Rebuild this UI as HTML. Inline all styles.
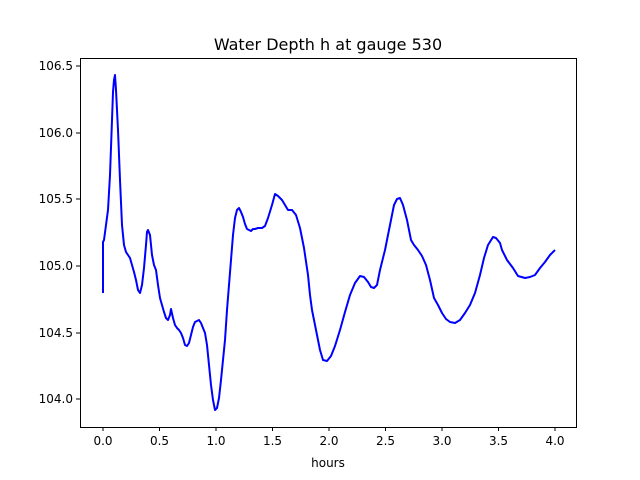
<!DOCTYPE html>
<html><head><meta charset="utf-8"><style>body{margin:0;background:#fff}svg{display:block}text{font-family:"DejaVu Sans","Liberation Sans",sans-serif;fill:#000}</style></head><body>
<svg width="640" height="480" xmlns="http://www.w3.org/2000/svg">
<rect width="640" height="480" fill="#fff"/>
<text x="328" y="50" font-size="16" text-anchor="middle">Water Depth h at gauge 530</text>
<polyline fill="none" stroke="#0000ff" stroke-width="2" stroke-linejoin="round" points="103,293 103,242 104,240 106,225 108,210 110,175 112,120 113,92 114,80 115,75 116,90 118,130 120,180 122,225 124,245 126,252 128,255 130,258 132,265 134,272 136,280 138,290 140,293 142,285 144,268 146,245 147,232 148,230 150,235 152,255 154,265 156,270 158,285 160,298 162,305 164,312 166,318 168,320 170,315 171,309 173,318 175,325 177,328 179,330 181,333 183,338 185,345 187,346 189,343 191,335 193,327 195,322 197,321 199,320 201,323 203,328 205,333 207,345 209,365 211,385 213,400 215,410 217,408 219,398 221,380 223,360 225,340 227,310 229,285 231,260 233,235 235,218 237,210 239,208 241,212 243,217 245,224 247,229 249,230 251,231 253,229 255,229 258,228 262,228 265,226 268,218 272,205 275,194 278,196 282,200 285,205 288,210 292,210 296,215 300,228 304,248 308,275 310,295 312,310 316,330 320,350 323,360 327,361 331,356 335,346 340,330 345,312 350,295 355,283 360,276 364,277 368,282 371,287 374,288 377,285 380,270 385,250 390,225 394,205 397,199 400,198 403,205 407,220 411,240 414,245 418,250 422,256 426,265 430,280 434,298 438,305 442,313 446,319 450,322 455,323 460,320 465,313 470,305 475,293 480,275 484,258 488,245 493,237 496,238 500,243 502,250 507,260 513,268 518,276 525,278 530,277 535,275 540,268 545,262 550,255 555,250"/>
<rect x="80.5" y="58.5" width="496" height="369" fill="none" stroke="#000" stroke-width="1"/>
<g stroke="#000" stroke-width="1">
<line x1="103" y1="427" x2="103" y2="431"/><line x1="159.5" y1="427" x2="159.5" y2="431"/><line x1="216" y1="427" x2="216" y2="431"/><line x1="272.5" y1="427" x2="272.5" y2="431"/><line x1="329" y1="427" x2="329" y2="431"/><line x1="385.5" y1="427" x2="385.5" y2="431"/><line x1="442" y1="427" x2="442" y2="431"/><line x1="498.5" y1="427" x2="498.5" y2="431"/><line x1="555" y1="427" x2="555" y2="431"/>
<line x1="76" y1="66" x2="80" y2="66"/><line x1="76" y1="133" x2="80" y2="133"/><line x1="76" y1="199" x2="80" y2="199"/><line x1="76" y1="266" x2="80" y2="266"/><line x1="76" y1="333" x2="80" y2="333"/><line x1="76" y1="399" x2="80" y2="399"/>
</g>
<g font-size="12" text-anchor="middle">
<text x="103" y="445">0.0</text><text x="159.5" y="445">0.5</text><text x="216" y="445">1.0</text><text x="272.5" y="445">1.5</text><text x="329" y="445">2.0</text><text x="385.5" y="445">2.5</text><text x="442" y="445">3.0</text><text x="498.5" y="445">3.5</text><text x="555" y="445">4.0</text>
<text x="328" y="467">hours</text>
</g>
<g font-size="12" text-anchor="end">
<text x="73" y="70">106.5</text><text x="73" y="137">106.0</text><text x="73" y="203">105.5</text><text x="73" y="270">105.0</text><text x="73" y="337">104.5</text><text x="73" y="403">104.0</text>
</g>
</svg>
</body></html>
